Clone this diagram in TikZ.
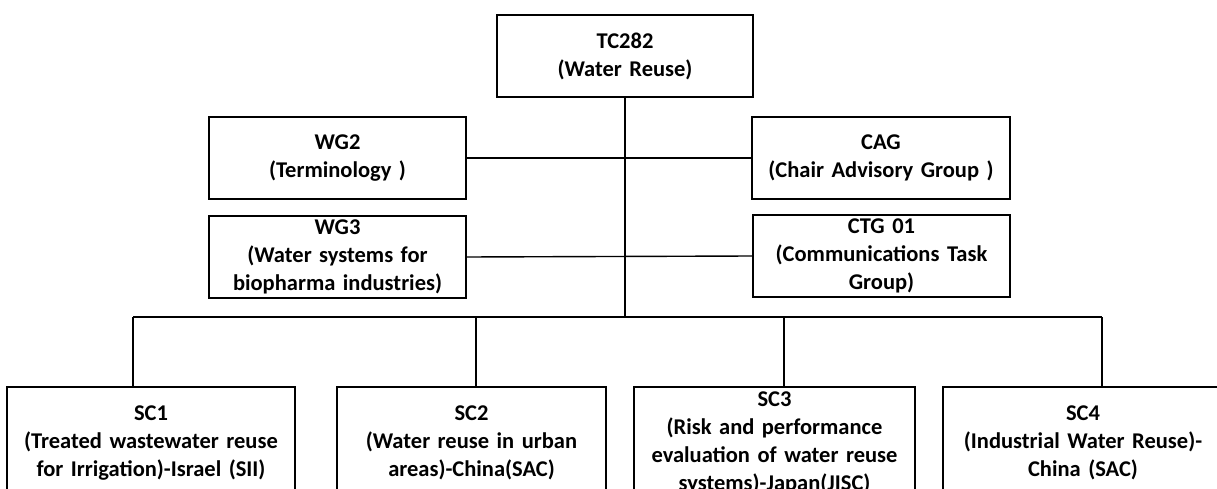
\documentclass[tikz,border=0pt]{standalone}
\usepackage{fontspec}
\setmainfont{Carlito}
\usepackage{tikz}
\usetikzlibrary{positioning, calc}

\begin{document}
\begin{tikzpicture}[
    x=1pt, y=-1pt,
    font=\fontsize{22.5}{28}\selectfont\bfseries,
    unit/.style={
      draw=black,
      line width=1.8pt,
      fill=white,
      inner sep=0pt,
      align=center,
      minimum height=82pt,
      text width=257pt,
    },
    subc/.style={
      unit,
      minimum height=112pt,
    },
    link/.style={line width=1.4pt, draw=black},
  ]
    \useasboundingbox (0,0) rectangle (1217,489);
    \clip (0,0) rectangle (1217,489);

    % top committee
    \node[unit, text width=256pt] (tc) at (625,56) {TC282\\(Water Reuse)};

    % working groups and advisory groups
    \node[unit] (wgtwo) at (337.5,158) {WG2\\(Terminology )};
    \node[unit, text width=258pt] (cag) at (881,158) {CAG\\(Chair Advisory Group )};
    \node[unit] (wgthree) at (337.5,257) {WG3\\(Water systems for\\biopharma industries)};
    \node[unit] (ctg) at (881.5,256) {CTG 01\\(Communications Task\\Group)};

    % subcommittees
    \node[subc, text width=288pt] (scone) at (151,443) {SC1\\(Treated wastewater reuse\\for Irrigation)-Israel (SII)};
    \node[subc, text width=269pt] (sctwo) at (471.5,443) {SC2\\(Water reuse in urban\\areas)-China(SAC)};
    \node[subc, text width=281pt] (scthree) at (774.5,443) {SC3\\(Risk and performance\\evaluation of water reuse\\systems)-Japan(JISC)};
    \node[subc, text width=280pt] (scfour) at (1083,443) {SC4\\(Industrial Water Reuse)-\\China (SAC)};

    % bus and drop points
    \coordinate (busl) at (133,317);
    \coordinate (busr) at (1102,317);
    \coordinate (dtwo) at (476,317);
    \coordinate (dthree) at (784,317);

    \draw[link] (tc.south) -- (tc.south |- busl);
    \draw[link] (wgtwo.east) -- (cag.west);
    \draw[link] (wgthree.east) -- (ctg.west);
    \draw[link] (busl) -- (busr);
    \draw[link] (busl) -- (busl |- scone.north);
    \draw[link] (dtwo) -- (dtwo |- sctwo.north);
    \draw[link] (dthree) -- (dthree |- scthree.north);
    \draw[link] (busr) -- (busr |- scfour.north);
  \end{tikzpicture}
\end{document}
